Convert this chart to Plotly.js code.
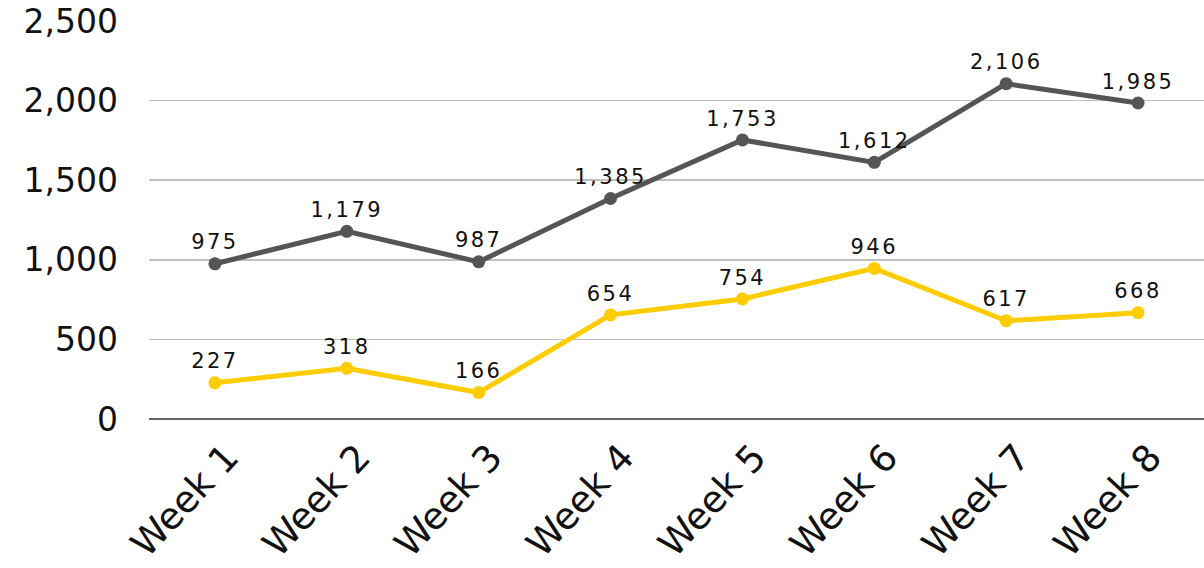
<!DOCTYPE html>
<html>
<head>
<meta charset="utf-8">
<script src="https://cdn.plot.ly/plotly-3.0.1.min.js"></script>
<style>
html,body{margin:0;padding:0;background:#fff;}
#chart{width:1204px;height:568px;}
#chart .textpoint text{letter-spacing:2.5px;}
</style>
</head>
<body>
<div id="chart"></div>
<script>
const weeks = ["Week 1","Week 2","Week 3","Week 4","Week 5","Week 6","Week 7","Week 8"];
const seriesGray = [975, 1179, 987, 1385, 1753, 1612, 2106, 1985];
const seriesYellow = [227, 318, 166, 654, 754, 946, 617, 668];
const yTicks = [0, 500, 1000, 1500, 2000, 2500];
const yTickLabels = ["0", "500", "1,000", "1,500", "2,000", "2,500"];

const fmt = v => v.toLocaleString('en-US');

const traces = [
  {
    x: weeks, y: seriesGray, type: 'scatter', mode: 'lines+markers+text',
    line: {color: '#555555', width: 5},
    marker: {color: '#555555', size: 13},
    text: seriesGray.map(fmt), textposition: 'top center',
    textfont: {family: 'DejaVu Sans', size: 21, color: '#111111'},
    cliponaxis: false, hoverinfo: 'skip'
  },
  {
    x: weeks, y: seriesYellow, type: 'scatter', mode: 'lines+markers+text',
    line: {color: '#FFCC00', width: 5},
    marker: {color: '#FFCC00', size: 13},
    text: seriesYellow.map(fmt), textposition: 'top center',
    textfont: {family: 'DejaVu Sans', size: 21, color: '#111111'},
    cliponaxis: false, hoverinfo: 'skip'
  }
];

const layout = {
  width: 1204, height: 568,
  margin: {l: 149, r: 0, t: 21, b: 149},
  paper_bgcolor: '#ffffff', plot_bgcolor: '#ffffff',
  showlegend: false,
  hovermode: false,
  font: {family: 'DejaVu Sans', color: '#111111'},
  xaxis: {
    type: 'category', range: [-0.5, 7.5],
    showgrid: false, zeroline: false, showline: false, ticks: '',
    tickangle: -47,
    ticklabelshift: 12,
    ticklabelstandoff: 8,
    tickfont: {family: 'DejaVu Sans', size: 37, color: '#111111'},
    fixedrange: true
  },
  yaxis: {
    range: [0, 2500],
    tickvals: yTicks, ticktext: yTickLabels,
    showgrid: true, gridcolor: '#bfbfbf', gridwidth: 1.5,
    zeroline: true, zerolinecolor: '#666666', zerolinewidth: 2,
    showline: false, ticks: '',
    ticklabelstandoff: 30,
    tickfont: {family: 'DejaVu Sans', size: 33, color: '#111111'},
    fixedrange: true
  }
};

Plotly.newPlot('chart', traces, layout, {displayModeBar: false, staticPlot: true});
</script>
</body>
</html>
